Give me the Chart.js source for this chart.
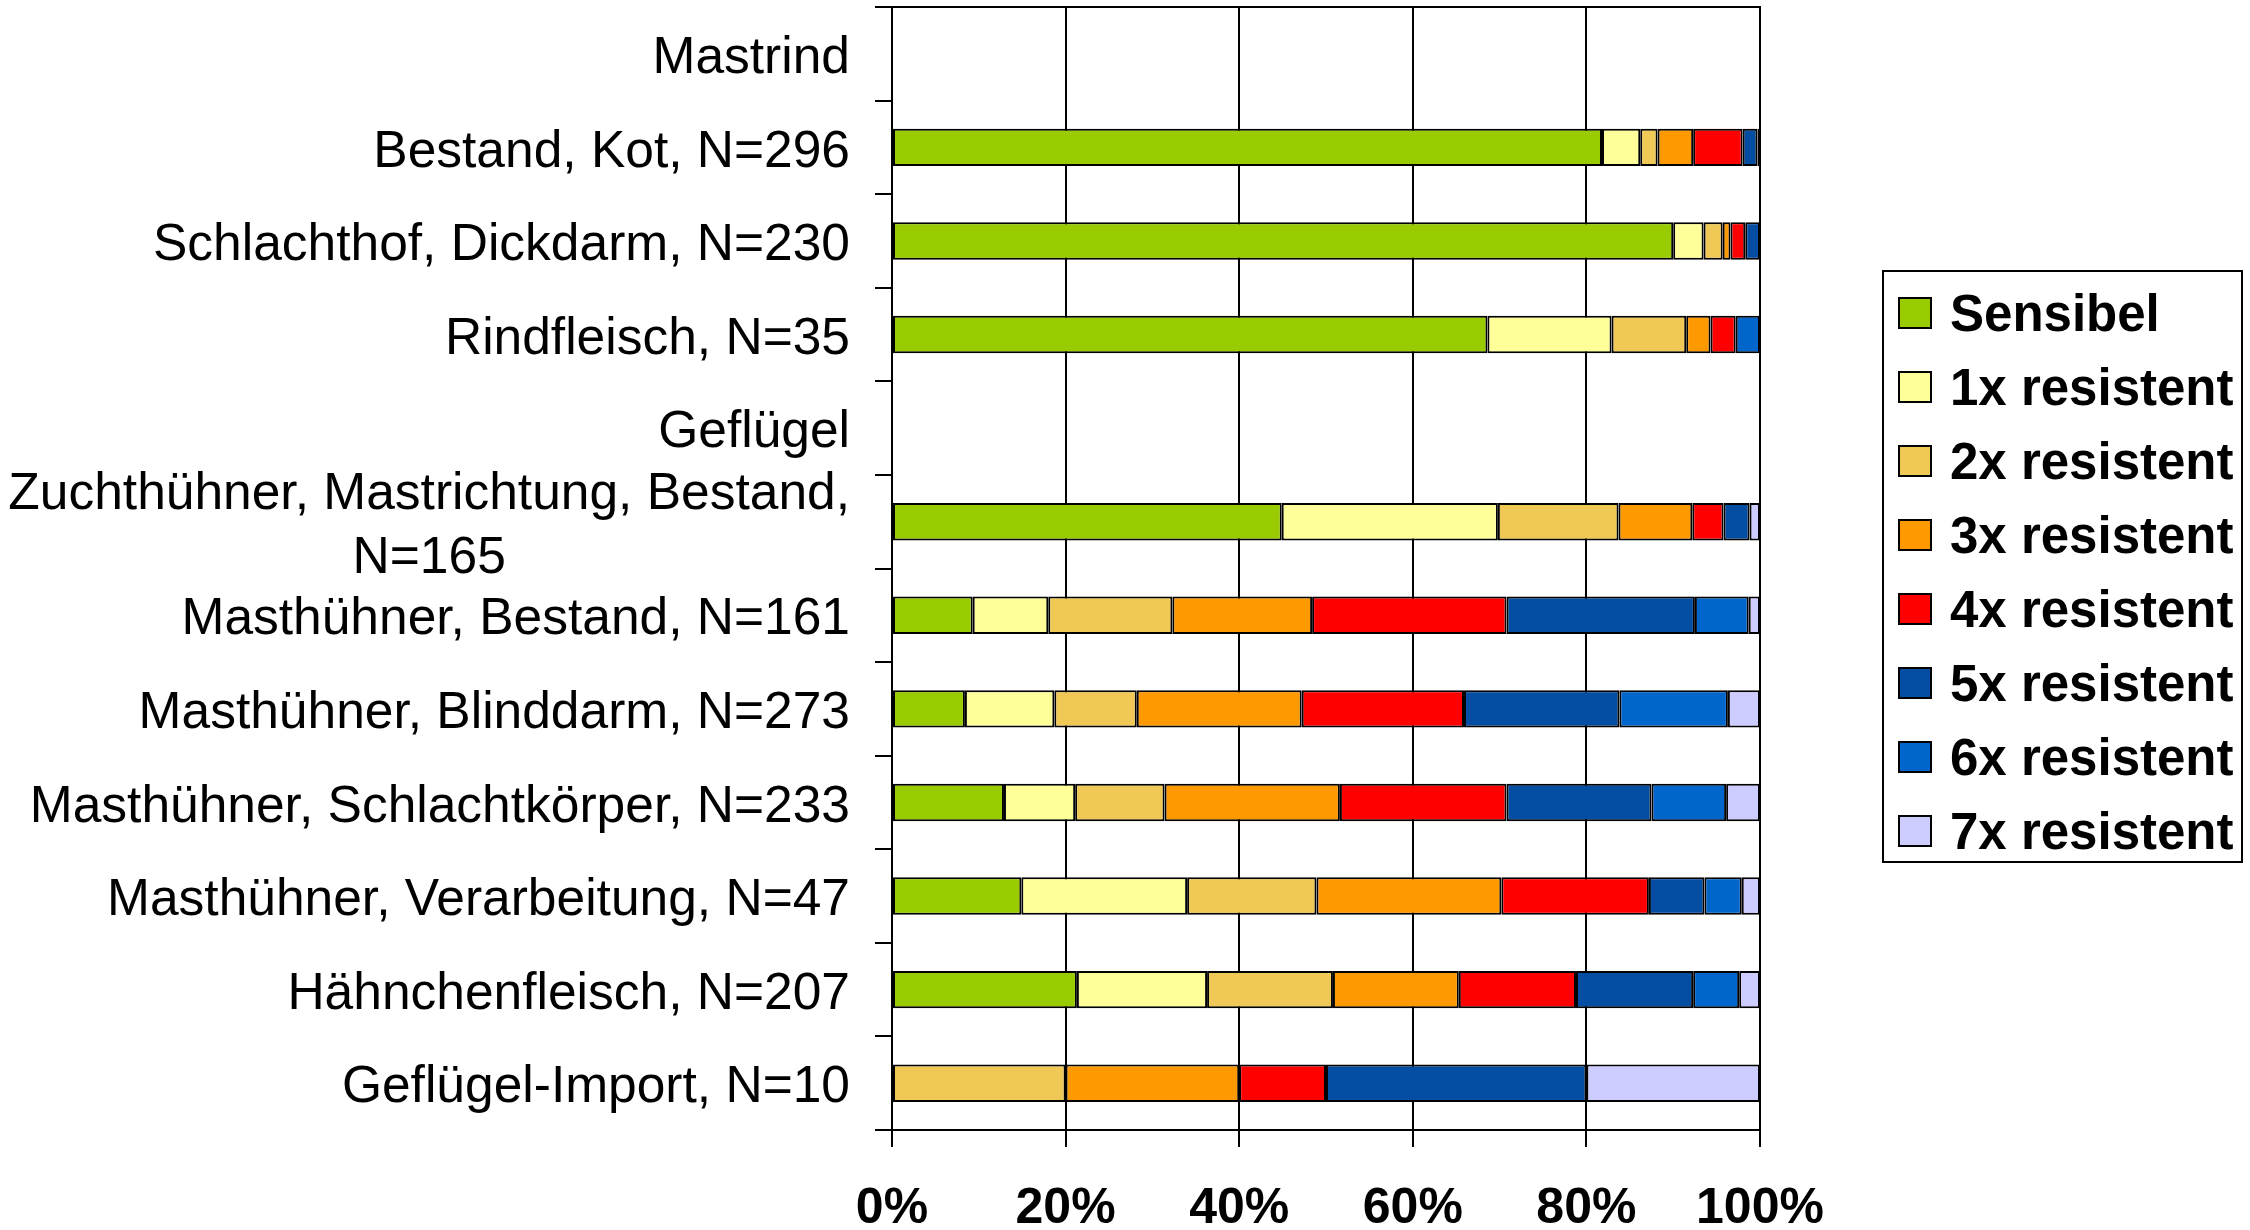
<!DOCTYPE html>
<html>
<head>
<meta charset="utf-8">
<script src="https://cdn.jsdelivr.net/npm/chart.js@4.4.1/dist/chart.umd.min.js"></script>
<style>
  html, body { margin: 0; padding: 0; background: #ffffff; }
  #wrap { width: 2250px; height: 1230px; }
</style>
</head>
<body>
<div id="wrap"><canvas id="c" width="2250" height="1230"></canvas></div>
<script>
const categories = [
  'Mastrind',
  'Bestand, Kot, N=296',
  'Schlachthof, Dickdarm, N=230',
  'Rindfleisch, N=35',
  'Geflügel',
  ['Zuchthühner, Mastrichtung, Bestand,', 'N=165'],
  'Masthühner, Bestand, N=161',
  'Masthühner, Blinddarm, N=273',
  'Masthühner, Schlachtkörper, N=233',
  'Masthühner, Verarbeitung, N=47',
  'Hähnchenfleisch, N=207',
  'Geflügel-Import, N=10'
];

const seriesNames = ['Sensibel', '1x resistent', '2x resistent', '3x resistent',
                     '4x resistent', '5x resistent', '6x resistent', '7x resistent'];

const sensibel = [null, 81.8, 90.0, 68.6, null, 44.9,  9.3,  8.4, 12.9, 14.9, 21.3, null];
const res1x    = [null,  4.4,  3.5, 14.3, null, 24.9,  8.7, 10.3,  8.2, 19.1, 15.0, null];
const res2x    = [null,  2.0,  2.2,  8.6, null, 13.9, 14.3,  9.5, 10.3, 14.9, 14.5, 20];
const res3x    = [null,  4.1,  0.9,  2.8, null,  8.5, 16.1, 19.0, 20.2, 21.3, 14.5, 20];
const res4x    = [null,  5.7,  1.7,  2.9, null,  3.6, 22.4, 18.7, 19.2, 17.0, 13.5, 10];
const res5x    = [null,  1.7,  1.7, null, null,  3.0, 21.7, 17.9, 16.7,  6.4, 13.5, 30];
const res6x    = [null,  0.3, null,  2.8, null, null,  6.2, 12.5,  8.6,  4.3,  5.3, null];
const res7x    = [null, null, null, null, null,  1.2,  1.3,  3.7,  3.9,  2.1,  2.4, 20];

const xTicks = [0, 20, 40, 60, 80, 100];

const seriesValues = [sensibel, res1x, res2x, res3x, res4x, res5x, res6x, res7x];
const seriesColors = ['#99CC00', '#FFFF99', '#F0C855', '#FF9900',
                      '#FF0000', '#034EA2', '#0066CC', '#CCCCFF'];

const FONT = "'Liberation Sans', Arial, Helvetica, sans-serif";

const datasets = seriesValues.map((vals, i) => ({
  label: seriesNames[i],
  data: vals,
  backgroundColor: seriesColors[i],
  borderColor: '#000000',
  borderWidth: 2,
  borderSkipped: false,
  categoryPercentage: 1.0,
  barPercentage: 0.40
}));

// Draw category labels (right aligned; multi-line labels centered as a block)
const yLabelPlugin = {
  id: 'yLabels',
  afterDraw(chart) {
    const ctx = chart.ctx;
    const ys = chart.scales.y;
    const xr = 850;
    const lineH = 64;
    ctx.save();
    ctx.fillStyle = '#000000';
    ctx.font = '51.5px ' + FONT;
    ctx.textBaseline = 'middle';
    categories.forEach((lab, i) => {
      const yc = ys.getPixelForTick(i) + 5;
      if (Array.isArray(lab)) {
        const w = Math.max(...lab.map(s => ctx.measureText(s).width));
        const cx = xr - w / 2;
        ctx.textAlign = 'center';
        const y0 = yc - (lab.length - 1) * lineH / 2;
        lab.forEach((s, k) => ctx.fillText(s, cx, y0 + k * lineH));
      } else {
        ctx.textAlign = 'right';
        ctx.fillText(lab, xr, yc);
      }
    });
    ctx.restore();
  }
};

// Top border of plot area
const framePlugin = {
  id: 'frame',
  afterDraw(chart) {
    const a = chart.chartArea;
    const ctx = chart.ctx;
    ctx.save();
    ctx.strokeStyle = '#000000';
    ctx.lineWidth = 2;
    ctx.beginPath();
    ctx.moveTo(a.left - 17, a.top);
    ctx.lineTo(a.right + 1, a.top);
    ctx.stroke();
    ctx.restore();
  }
};

// Boxed legend on the right
const legendPlugin = {
  id: 'boxLegend',
  afterDraw(chart) {
    const ctx = chart.ctx;
    const bx = 1883, by = 271, bw = 359, bh = 591;
    const rowY0 = 313, rowStep = 74;
    ctx.save();
    ctx.fillStyle = '#ffffff';
    ctx.fillRect(bx, by, bw, bh);
    ctx.strokeStyle = '#000000';
    ctx.lineWidth = 2;
    ctx.strokeRect(bx, by, bw, bh);
    ctx.font = 'bold 51px ' + FONT;
    ctx.textBaseline = 'middle';
    ctx.textAlign = 'left';
    chart.data.datasets.forEach((ds, i) => {
      const y = rowY0 + i * rowStep;
      ctx.fillStyle = ds.backgroundColor;
      ctx.fillRect(1899, y - 15, 32, 30);
      ctx.strokeStyle = '#000000';
      ctx.lineWidth = 2;
      ctx.strokeRect(1899, y - 15, 32, 30);
      ctx.fillStyle = '#000000';
      ctx.fillText(ds.label, 1950, y + 4);
    });
    ctx.restore();
  }
};

new Chart(document.getElementById('c'), {
  type: 'bar',
  data: { labels: categories, datasets },
  plugins: [yLabelPlugin, framePlugin, legendPlugin],
  options: {
    indexAxis: 'y',
    responsive: false,
    animation: false,
    devicePixelRatio: 1,
    layout: { padding: { top: 7, right: 490, bottom: 0, left: 0 } },
    plugins: {
      legend: { display: false },
      tooltip: { enabled: false },
      title: { display: false }
    },
    scales: {
      x: {
        type: 'linear',
        stacked: true,
        min: 0,
        max: 100,
        afterBuildTicks(scale) { scale.ticks = xTicks.map(v => ({ value: v })); },
        afterFit(scale) { scale.height = 100; },
        ticks: {
          padding: 32,
          color: '#000000',
          font: { family: FONT, size: 50, weight: 'bold' },
          callback: v => v + '%'
        },
        grid: {
          color: '#000000',
          lineWidth: 2,
          drawTicks: true,
          tickLength: 17,
          tickColor: '#000000'
        },
        border: { display: true, color: '#000000', width: 2 }
      },
      y: {
        type: 'category',
        stacked: true,
        offset: true,
        afterFit(scale) { scale.width = 892; },
        ticks: { display: false },
        grid: {
          offset: true,
          drawOnChartArea: false,
          drawTicks: true,
          tickLength: 17,
          color: '#000000',
          lineWidth: 2
        },
        border: { display: true, color: '#000000', width: 2 }
      }
    }
  }
});
</script>
</body>
</html>
